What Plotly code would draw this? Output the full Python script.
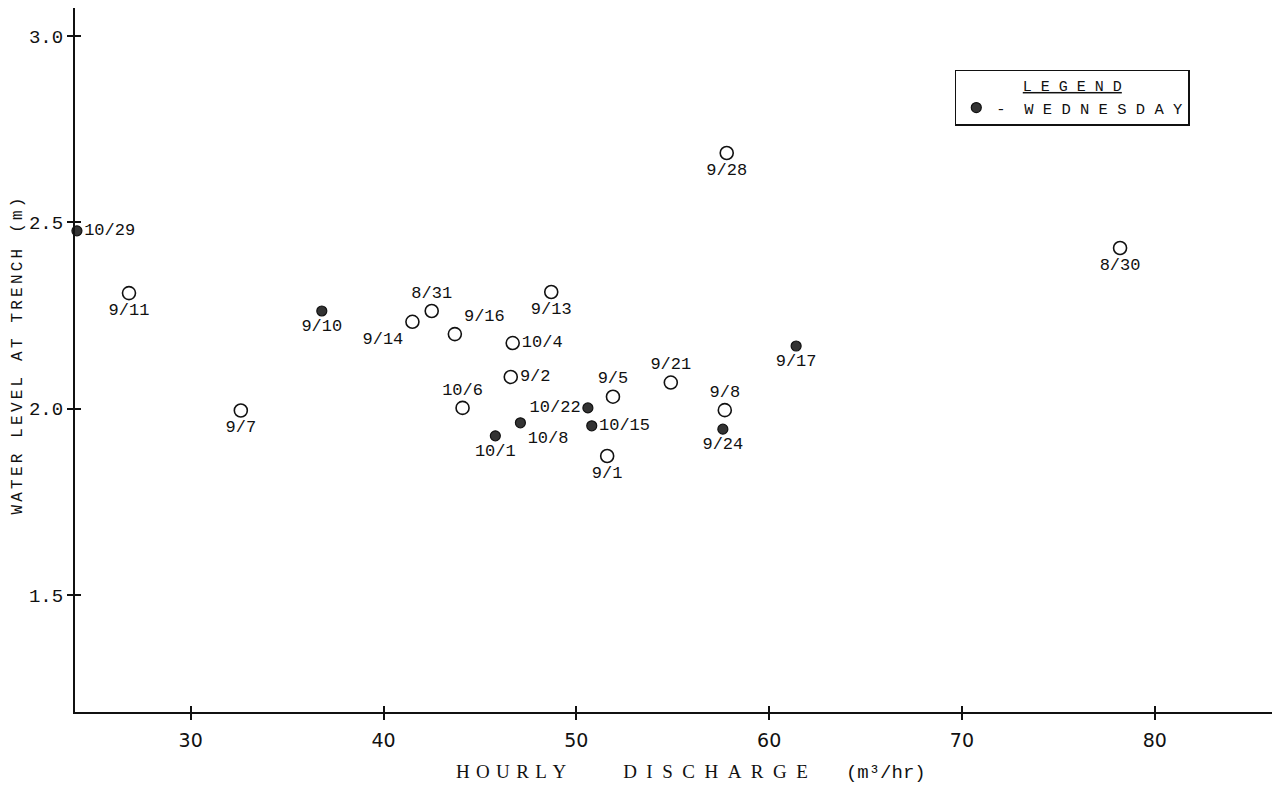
import plotly.graph_objects as go

# Daily observations: hourly discharge (m3/hr) vs. water level at trench (m)
other_dates = ["9/11", "9/7", "8/31", "9/14", "9/16", "9/13", "10/4", "9/2",
               "10/6", "9/5", "9/1", "9/21", "9/28", "9/8", "8/30"]
other_discharge = [26.8, 32.6, 42.5, 41.5, 43.7, 48.7, 46.7, 46.6,
                   44.1, 51.9, 51.6, 54.9, 57.8, 57.7, 78.2]
other_level = [2.310, 1.995, 2.262, 2.233, 2.200, 2.313, 2.176, 2.085,
               2.002, 2.032, 1.873, 2.070, 2.686, 1.996, 2.431]
other_textpos = ["bottom center", "bottom center", "top center", "bottom left",
                 "top right", "bottom center", "middle right", "middle right",
                 "top center", "top center", "bottom center", "top center",
                 "bottom center", "top center", "bottom center"]

wed_dates = ["10/29", "9/10", "10/1", "10/8", "10/22", "10/15", "9/24", "9/17"]
wed_discharge = [24.1, 36.8, 45.8, 47.1, 50.6, 50.8, 57.6, 61.4]
wed_level = [2.477, 2.262, 1.927, 1.962, 2.002, 1.954, 1.945, 2.168]
wed_textpos = ["middle right", "bottom center", "bottom center", "bottom right",
               "middle left", "middle right", "bottom center", "bottom center"]

x_ticks = [30, 40, 50, 60, 70, 80]
y_ticks = [1.5, 2.0, 2.5, 3.0]

MONO = "Liberation Mono"
INK = "#111"
NB = "\u00a0"
label_font = dict(family=MONO, size=17, color=INK)


def spaced(word, gap):
    return gap.join(word)


x_title = (spaced("HOURLY", " \u200a") + "\u2003\u2003\u2003"
           + spaced("DISCHARGE", "\u2002") + "\u2003\u2003"
           + "<span style='font-family:Liberation Mono'>(m\u00b3/hr)</span>")
y_title = "\u2009".join("WATER LEVEL AT TRENCH (m)")
legend_label = "-" + NB + NB + spaced("WEDNESDAY", NB)
legend_title = ("<span style='text-decoration:underline'>"
                + spaced("LEGEND", NB) + "</span>")

fig = go.Figure()
fig.add_trace(go.Scatter(
    x=other_discharge, y=other_level, text=other_dates,
    mode="markers+text", textposition=other_textpos, textfont=label_font,
    marker=dict(symbol="circle-open", size=13, color=INK,
                line=dict(width=1.6, color=INK)),
    cliponaxis=False, showlegend=False, hoverinfo="x+y+text",
))
# Wednesday readings sit on the overlaid axis pair (same ranges) so that
# its inward ticks are drawn too, completing the crossing tick marks.
fig.add_trace(go.Scatter(
    x=wed_discharge, y=wed_level, text=wed_dates,
    xaxis="x2", yaxis="y2",
    mode="markers+text", textposition=wed_textpos, textfont=label_font,
    marker=dict(symbol="circle", size=10, color="#333",
                line=dict(width=1.2, color=INK)),
    cliponaxis=False, name=legend_label, hoverinfo="x+y+text",
))

x_range = [24, 86.08]
y_range = [1.186, 3.075]

axis_common = dict(showgrid=False, zeroline=False, ticklen=6, tickwidth=1.5,
                   tickcolor=INK)
fig.update_layout(
    width=1272, height=786,
    margin=dict(l=75, r=0, t=8, b=74),
    plot_bgcolor="white", paper_bgcolor="white",
    xaxis=dict(range=x_range, tickvals=x_ticks, ticks="outside",
               showline=True, linecolor=INK, linewidth=2, ticklabelstandoff=4,
               tickfont=dict(family="DejaVu Sans", size=19, color=INK),
               **axis_common),
    yaxis=dict(range=y_range, tickvals=y_ticks, ticks="outside",
               tickformat=".1f", showline=True, linecolor=INK, linewidth=2,
               tickfont=dict(family=MONO, size=19, color=INK),
               **axis_common),
    xaxis2=dict(range=x_range, tickvals=x_ticks, ticks="inside", overlaying="x",
                anchor="y", showticklabels=False, showline=False, **axis_common),
    yaxis2=dict(range=y_range, tickvals=y_ticks, ticks="inside", overlaying="y",
                anchor="x", showticklabels=False, showline=False, **axis_common),
    legend=dict(
        x=0.735, y=0.912, xanchor="left", yanchor="top",
        bordercolor=INK, borderwidth=1.5, bgcolor="white",
        font=dict(family=MONO, size=15.5, color=INK),
        title=dict(text=legend_title, side="top center",
                   font=dict(family=MONO, size=15, color=INK)),
        itemsizing="trace",
    ),
    annotations=[
        dict(text=y_title, textangle=-90,
             xref="paper", yref="paper", x=-0.0476, y=0.505,
             xanchor="center", yanchor="middle", showarrow=False,
             font=dict(family=MONO, size=16, color=INK)),
        dict(text=x_title,
             xref="paper", yref="paper", x=0.515, y=-0.0866,
             xanchor="center", yanchor="middle", showarrow=False,
             font=dict(family="Liberation Serif", size=19, color=INK)),
    ],
)

fig.write_html("out.html")
